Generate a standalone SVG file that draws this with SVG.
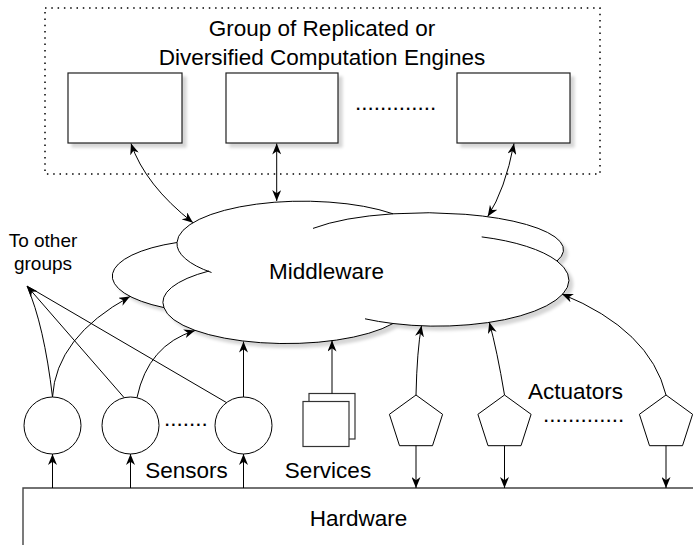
<svg xmlns="http://www.w3.org/2000/svg" width="693" height="545" viewBox="0 0 693 545">
<defs>
<style>
text{font-family:"Liberation Sans",Arial,Helvetica,sans-serif;fill:#000}
.lbl{font-size:22.5px}
.sm{font-size:19px}
.ln{fill:none;stroke:#000;stroke-width:1}
.shape{fill:#fff;stroke:#000;stroke-width:1}
.box{fill:#fff;stroke:#222;stroke-width:1.2}
</style>
<filter id="sh" x="-10%" y="-10%" width="130%" height="140%">
<feDropShadow dx="4" dy="4" stdDeviation="1.5" flood-color="#000" flood-opacity="0.16"/>
</filter>
<marker id="ah" viewBox="0 0 11 9" refX="11" refY="4.5" markerWidth="11" markerHeight="9" markerUnits="userSpaceOnUse" orient="auto-start-reverse">
<path d="M0,0 L11,4.5 L0,9 L3.3,4.5 z" fill="#000"/>
</marker>
</defs>
<rect width="693" height="545" fill="#fff"/>

<g id="engine-group">
<rect x="45" y="8" width="555" height="166" fill="none" stroke="#000" stroke-width="1.5" stroke-dasharray="1.5 4.8"/>
<text class="lbl" x="322" y="36" text-anchor="middle">Group of Replicated or</text>
<text class="lbl" x="322" y="65" text-anchor="middle">Diversified Computation Engines</text>
</g>
<g id="engine1"><rect class="box" x="68" y="73" width="114" height="70" filter="url(#sh)"/></g>
<g id="engine2"><rect class="box" x="226" y="73" width="112" height="70" filter="url(#sh)"/></g>
<g id="engine-dots"><text class="lbl" x="355" y="110">.............</text></g>
<g id="engine3"><rect class="box" x="457" y="73" width="113" height="70" filter="url(#sh)"/></g>

<g id="middleware">
<path d="M177,242.5 A126 42 0 0 1 393,213.8 A138 37 0 0 1 557,261 A132 46 0 0 1 393,323.5 A123 40 0 0 1 164,307.6 A110 37 0 0 1 177,242.5 Z" fill="#fff" stroke="#000" stroke-width="1" filter="url(#sh)"/>
<path class="ln" d="M177,242.5 A126 42 0 0 0 211.5,272.5 M209,271 A123 40 0 0 0 164,307.6 M313,228.4 A138 37 0 0 1 393,213.8 M481.7,236.9 A132 46 0 0 1 557,261 M365,318.8 A132 46 0 0 0 393,323.5"/>
<text class="lbl" x="326.5" y="279" text-anchor="middle">Middleware</text>
</g>

<g id="to-other-groups">
<text class="sm" x="43" y="247" text-anchor="middle">To other</text>
<text class="sm" x="43" y="270" text-anchor="middle">groups</text>
</g>

<g id="sensor1"><circle class="shape" cx="52.5" cy="425.5" r="28.5"/></g>
<g id="sensor2"><circle class="shape" cx="130.5" cy="425.5" r="28.5"/></g>
<g id="sensor-dots"><text class="lbl" x="164" y="426">.......</text></g>
<g id="sensor3"><circle class="shape" cx="243.5" cy="425.5" r="28.5"/></g>
<g id="sensors-label"><text class="lbl" x="186.5" y="478" text-anchor="middle">Sensors</text></g>

<g id="services">
<rect x="309" y="393.5" width="46" height="45.5" fill="#fff" stroke="#333" stroke-width="1.2"/>
<rect x="303" y="401.5" width="46" height="45" fill="#fff" stroke="#333" stroke-width="1.2"/>
<text class="lbl" x="328" y="478" text-anchor="middle">Services</text>
</g>

<g id="actuator1"><polygon class="shape" points="416,395 442.6,414.3 432.5,445.7 399.5,445.7 389.4,414.3"/></g>
<g id="actuator2"><polygon class="shape" points="504.5,395 531.1,414.3 521,445.7 488,445.7 477.9,414.3"/></g>
<g id="actuator3"><polygon class="shape" points="666,395 692.6,414.3 682.5,445.7 649.5,445.7 639.4,414.3"/></g>
<g id="actuators-label">
<text class="lbl" x="528" y="399">Actuators</text>
<text class="lbl" x="543" y="422">.............</text>
</g>

<g id="hardware">
<path d="M700,488 H23 V560 H700 Z" fill="#fff" stroke="#444" stroke-width="1.4"/>
<text class="lbl" x="358.5" y="526" text-anchor="middle">Hardware</text>
</g>

<g id="connectors" class="ln">
<path class="ln" d="M131,143.5 Q145,185 193,222.7" marker-start="url(#ah)" marker-end="url(#ah)"/>
<path class="ln" d="M276.7,143.5 V201" marker-start="url(#ah)" marker-end="url(#ah)"/>
<path class="ln" d="M514,143.5 Q505,190 487.7,216.5" marker-start="url(#ah)" marker-end="url(#ah)"/>
<path class="ln" d="M52.5,397 Q56,337 130,296.5" marker-end="url(#ah)"/>
<path class="ln" d="M52.5,397 Q44,325 27,286"/>
<path class="ln" d="M124,397.5 L27,286" marker-end="url(#ah)"/>
<path class="ln" d="M226.7,402.7 L27,286"/>
<path class="ln" d="M137,397.5 Q148,345 195,330.5" marker-end="url(#ah)"/>
<path class="ln" d="M243.5,397 V341.5" marker-end="url(#ah)"/>
<path class="ln" d="M332,393.5 V340.5" marker-end="url(#ah)"/>
<path class="ln" d="M416,395 Q417,350 421.5,325.8" marker-end="url(#ah)"/>
<path class="ln" d="M504.5,395 Q497,350 489.3,322.3" marker-end="url(#ah)"/>
<path class="ln" d="M666,395 Q650,330 562,294" marker-end="url(#ah)"/>
<path class="ln" d="M52.5,488 V454" marker-end="url(#ah)"/>
<path class="ln" d="M130.5,488 V454" marker-end="url(#ah)"/>
<path class="ln" d="M243.5,488 V454" marker-end="url(#ah)"/>
<path class="ln" d="M416,445.7 V488" marker-end="url(#ah)"/>
<path class="ln" d="M504.5,445.7 V488" marker-end="url(#ah)"/>
<path class="ln" d="M666,445.7 V488" marker-end="url(#ah)"/>
</g>
</svg>
